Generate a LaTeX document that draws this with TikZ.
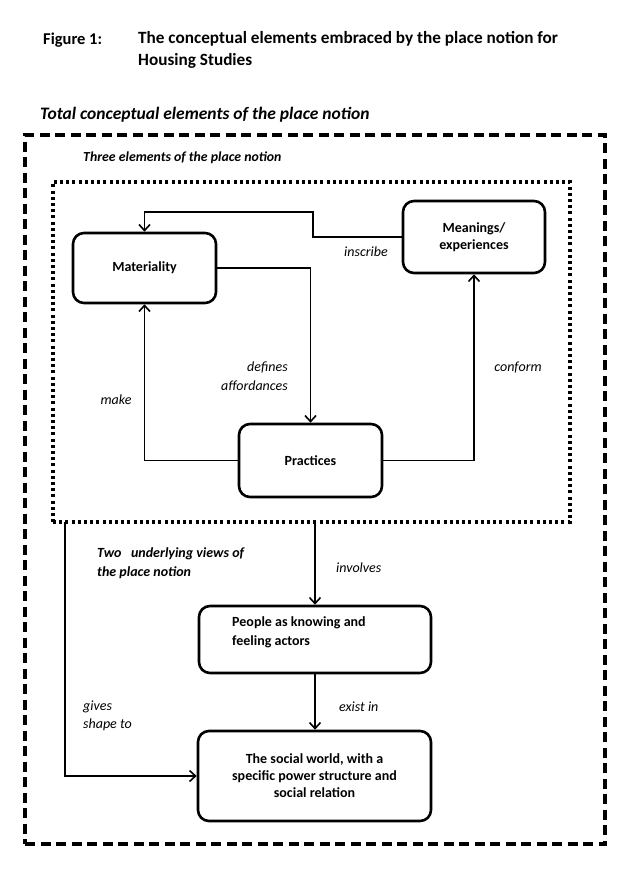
\documentclass[tikz,border=0pt]{standalone}
\usepackage{fontspec}
\setmainfont{Carlito}
\usetikzlibrary{arrows.meta}
\tikzset{
  box/.style={draw, line width=2.6pt, rounded corners=11pt, inner sep=0pt, font=\fontsize{14}{17}\selectfont\bfseries},
  arr/.style={line width=1.6pt, -{Straight Barb[length=6pt,width=11pt,line width=1.6pt]}},
  lbl/.style={inner sep=0pt, font=\fontsize{14}{18.5}\selectfont\itshape},
  hdr/.style={inner sep=0pt, font=\fontsize{13.8}{18}\selectfont\bfseries\itshape},
  outerbox/.style={draw, line width=3.2pt, dash pattern=on 10pt off 5.5pt, inner sep=0pt},
  dotbox/.style={draw, line width=3.2pt, dash pattern=on 3pt off 3.2pt, inner sep=0pt}
}
\begin{document}
\begin{tikzpicture}[x=1pt,y=-1pt]
\useasboundingbox (0,0) rectangle (632,872);
% title
\node[anchor=base west, inner sep=0pt, font=\fontsize{16.5}{22}\selectfont\bfseries] (fig) at (43,45) {Figure 1:};
\node[anchor=base west, inner sep=0pt, font=\fontsize{17.2}{22}\selectfont\bfseries] (title) at (138,44) {The conceptual elements embraced by the place notion for};
\node[anchor=base west, inner sep=0pt, font=\fontsize{17.2}{22}\selectfont\bfseries] (title2) at (138,66) {Housing Studies};
\node[anchor=west, inner sep=0pt, font=\fontsize{17.5}{20}\selectfont\bfseries\itshape] (total) at (40,115) {Total conceptual elements of the place notion};
% frames
\node[outerbox, minimum width=580pt, minimum height=709pt] (outer) at (315,489.5) {};
\node[hdr, anchor=west] (threehdr) at (83,158) {Three elements of the place notion};
\node[dotbox, minimum width=517pt, minimum height=340pt] (three) at (311.5,352) {};
% boxes
\node[box, minimum width=143pt, minimum height=70pt] (mat) at (144.5,268) {Materiality};
\node[box, minimum width=142pt, minimum height=72pt, align=center] (mean) at (474,237) {Meanings/\\experiences};
\node[box, minimum width=143pt, minimum height=73pt] (prac) at (310.5,460.5) {Practices};
\node[box, minimum width=232pt, minimum height=67pt] (people) at (315,639.5) {};
\node[anchor=west, inner sep=0pt, align=left, font=\fontsize{14}{19}\selectfont\bfseries] (peopletxt) at (232,632) {People as knowing and\\feeling actors};
\node[box, minimum width=233pt, minimum height=90pt, align=center] (social) at (314.5,776) {The social world, with a\\specific power structure and\\social relation};
% connectors
\coordinate (ins1) at (313,237);
\coordinate (ins2) at (313,212);
\draw[arr] (mean.west) -- (ins1) -- (ins2) -| (mat.north);
\draw[arr] (mat.east) -| (prac.north);
\draw[arr] (prac.west) -| (mat.south);
\draw[arr] (prac.east) -| (mean.south);
\draw[arr] (three.south -| people.north) -- (people.north);
\draw[arr] (people.south) -- (people.south |- social.north);
\coordinate (g0) at (65,522);
\draw[arr] (g0) |- (social.west);
% labels
\node[lbl] (linscribe) at (366,252) {inscribe};
\node[lbl, anchor=east, align=right] (ldefines) at (288,376) {defines\\affordances};
\node[lbl] (lmake) at (116,400) {make};
\node[lbl] (lconform) at (518,368) {conform};
\node[lbl, anchor=west] (linvolves) at (336,568) {involves};
\node[lbl, anchor=west] (lexist) at (339,707) {exist in};
\node[lbl, anchor=west, align=left] (lgives) at (83,716) {gives\\shape to};
\node[hdr, anchor=west, align=left, font=\fontsize{14}{18.5}\selectfont\bfseries\itshape] (twohdr) at (97,563) {Two~~ underlying views of\\the place notion};
\end{tikzpicture}
\end{document}
